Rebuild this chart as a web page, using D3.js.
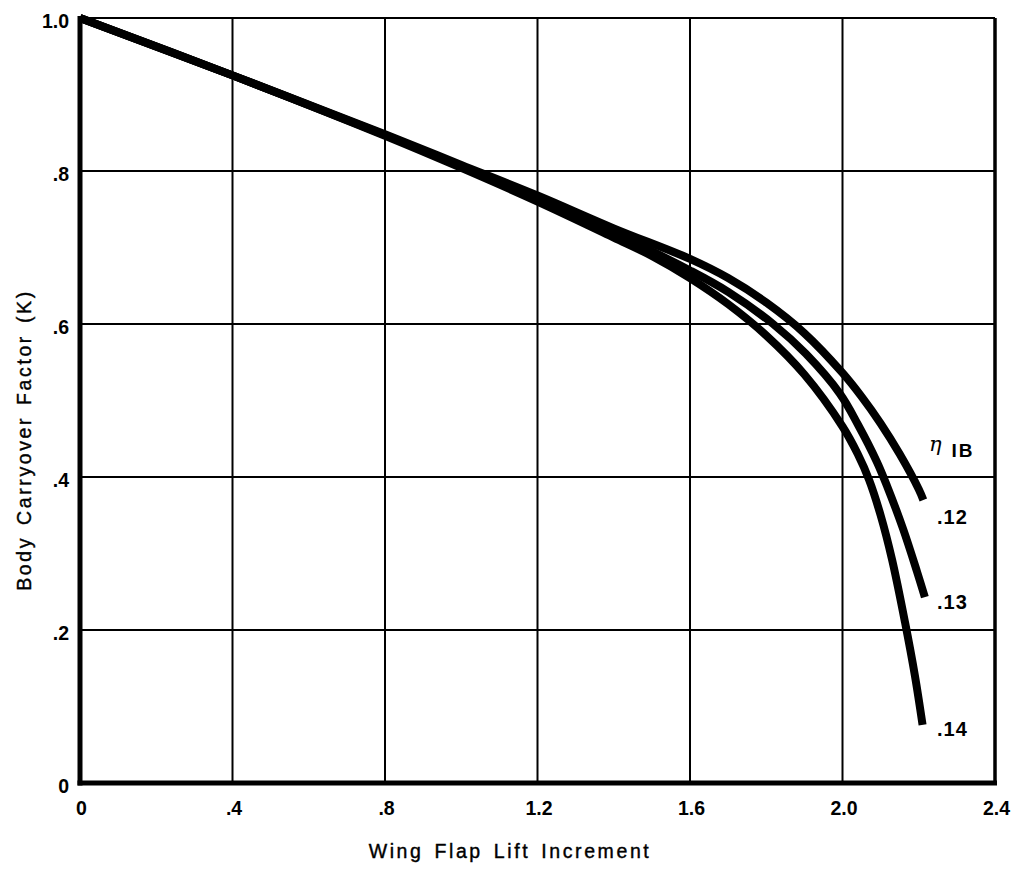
<!DOCTYPE html>
<html>
<head>
<meta charset="utf-8">
<script src="https://cdn.jsdelivr.net/npm/d3@7"></script>
<style>
  html, body { margin: 0; padding: 0; background: #fff; }
  svg { display: block; }
</style>
</head>
<body>
<svg id="chart" width="1017" height="871"></svg>
<script>
// Tick values and their printed labels
const xTicks = [0, 0.4, 0.8, 1.2, 1.6, 2.0, 2.4];
const xTickLabels = ["0", ".4", ".8", "1.2", "1.6", "2.0", "2.4"];
const yTicks = [0, 0.2, 0.4, 0.6, 0.8, 1.0];
const yTickLabels = ["0", ".2", ".4", ".6", ".8", "1.0"];

// Body carryover factor K vs wing flap lift increment, one curve per inboard station
const seriesNames = [".12", ".13", ".14"];
const curve12 = [[0, 1.0], [0.4, 0.925], [0.8, 0.848], [1.0, 0.808], [1.2, 0.768], [1.4, 0.725],
  [1.6, 0.685], [1.7, 0.66], [1.8, 0.628], [1.9, 0.588], [2.0, 0.536], [2.05, 0.505],
  [2.1, 0.47], [2.15, 0.43], [2.2, 0.384], [2.212, 0.37]];
const curve13 = [[0, 1.0], [0.4, 0.925], [0.8, 0.847], [1.0, 0.806], [1.2, 0.764], [1.4, 0.719],
  [1.6, 0.67], [1.7, 0.642], [1.818, 0.6], [1.904, 0.561], [1.993, 0.509], [2.04, 0.469],
  [2.09, 0.42], [2.117, 0.388], [2.159, 0.332], [2.195, 0.277], [2.216, 0.243]];
const curve14 = [[0, 1.0], [0.4, 0.925], [0.8, 0.846], [1.0, 0.804], [1.2, 0.76], [1.4, 0.713],
  [1.5, 0.689], [1.6, 0.66], [1.7, 0.626], [1.8, 0.585], [1.9, 0.534], [2.0, 0.466],
  [2.04, 0.43], [2.07, 0.396], [2.1, 0.35], [2.13, 0.292], [2.164, 0.21], [2.19, 0.14],
  [2.21, 0.076]];
const curves = [curve12, curve13, curve14];

const svg = d3.select("#chart");
const x = d3.scaleLinear().domain([0, 2.4]).range([80, 995]);
const y = d3.scaleLinear().domain([0, 1]).range([783, 18]);

// Grid
const grid = svg.append("g").attr("stroke", "#000");
grid.selectAll("line.v").data(xTicks.slice(1, -1)).join("line")
  .attr("x1", d => x(d)).attr("x2", d => x(d))
  .attr("y1", y(1)).attr("y2", y(0))
  .attr("stroke-width", 2);
grid.selectAll("line.h").data(yTicks.slice(1)).join("line")
  .attr("y1", d => y(d)).attr("y2", d => y(d))
  .attr("x1", x(0)).attr("x2", x(2.4))
  .attr("stroke-width", 2);
// Frame: heavy left, bottom and right edges
grid.append("line").attr("x1", x(0)).attr("x2", x(0)).attr("y1", y(1) - 2).attr("y2", y(0) + 2.5).attr("stroke-width", 5);
grid.append("line").attr("x1", x(0) - 2.5).attr("x2", x(2.4) + 2).attr("y1", y(0)).attr("y2", y(0)).attr("stroke-width", 5);
grid.append("line").attr("x1", x(2.4)).attr("x2", x(2.4)).attr("y1", y(1)).attr("y2", y(0)).attr("stroke-width", 3.5);

// Curves
const line = d3.line().x(d => x(d[0])).y(d => y(d[1])).curve(d3.curveCatmullRom.alpha(0.5));
svg.append("g").selectAll("path").data(curves).join("path")
  .attr("d", line)
  .attr("fill", "none")
  .attr("stroke", "#000")
  .attr("stroke-width", 8)
  .attr("stroke-linecap", "butt")
  .attr("stroke-linejoin", "round");

// Axes (labels only)
const font = "'Liberation Sans', Arial, Helvetica, sans-serif";
const xAxis = d3.axisBottom(x).tickValues(xTicks).tickSize(0).tickPadding(0)
  .tickFormat((d, i) => xTickLabels[i]);
const gx = svg.append("g").attr("transform", `translate(1, ${y(0) + 18})`).call(xAxis);
gx.select(".domain").remove();
gx.selectAll("text").attr("font-family", font).attr("font-size", 19.5).attr("font-weight", "bold").attr("fill", "#000");

const yAxis = d3.axisLeft(y).tickValues(yTicks).tickSize(0).tickPadding(0)
  .tickFormat((d, i) => yTickLabels[i]);
const gy = svg.append("g").attr("transform", `translate(${x(0) - 11}, 3)`).call(yAxis);
gy.select(".domain").remove();
gy.selectAll("text").attr("font-family", font).attr("font-size", 19.5).attr("font-weight", "bold").attr("fill", "#000");

// Axis titles
svg.append("text")
  .attr("x", 510).attr("y", 858)
  .attr("text-anchor", "middle")
  .attr("font-family", font).attr("font-size", 19.5).attr("fill", "#000")
  .attr("stroke", "#000").attr("stroke-width", 0.4)
  .style("letter-spacing", "2.6px").style("word-spacing", "3px")
  .text("Wing Flap Lift Increment");
svg.append("text")
  .attr("transform", `translate(31, 440) rotate(-90)`)
  .attr("text-anchor", "middle")
  .attr("font-family", font).attr("font-size", 19.5).attr("fill", "#000")
  .attr("stroke", "#000").attr("stroke-width", 0.4)
  .style("letter-spacing", "2.6px").style("word-spacing", "3px")
  .text("Body Carryover Factor (K)");

// Curve labels
const labelStyle = sel => sel.attr("font-family", font).attr("font-size", 20).attr("font-weight", "bold").attr("fill", "#000");
const ends = curves.map(c => c[c.length - 1]);
svg.append("g").selectAll("text").data(seriesNames).join("text")
  .attr("x", 937)
  .attr("y", (d, i) => y(ends[i][1]) + [24, 12, 11][i])
  .style("letter-spacing", "1px")
  .call(labelStyle)
  .text(d => d);

const eta = svg.append("text").attr("x", 929).attr("y", 451).call(labelStyle);
eta.append("tspan").attr("font-family", "'DejaVu Serif', serif").attr("font-style", "italic").attr("font-weight", "normal").attr("font-size", 21).text("η");
eta.append("tspan").attr("dx", 10).attr("dy", 6).attr("font-size", 19).style("letter-spacing", "2px").text("IB");
</script>
</body>
</html>
